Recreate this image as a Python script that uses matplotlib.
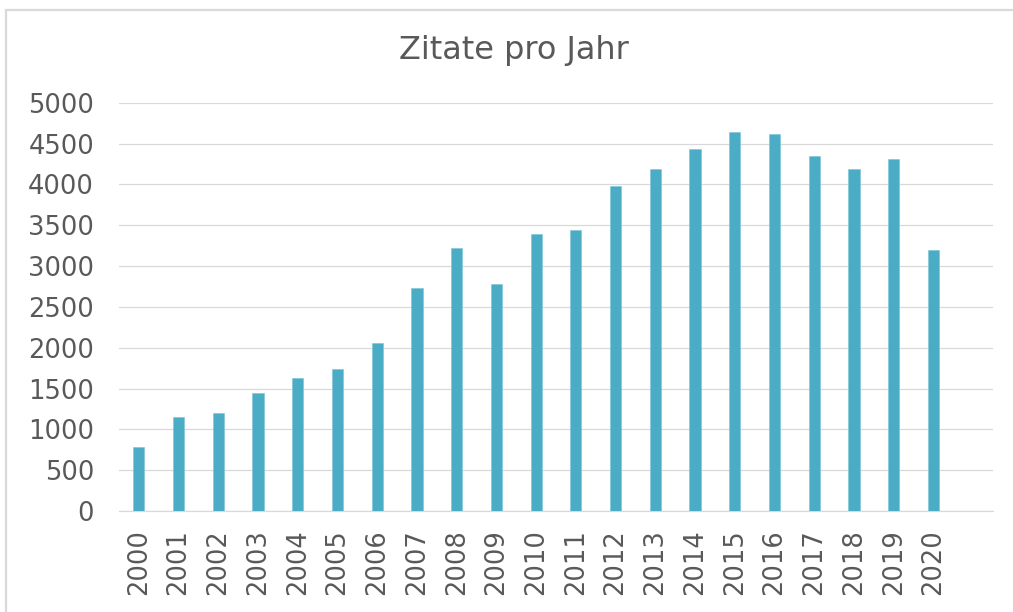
import matplotlib
matplotlib.use('Agg')
import matplotlib.pyplot as plt
from matplotlib.patches import Rectangle

# ── Daten ─────────────────────────────────────────────────────────────────────
jahre = [str(j) for j in range(2000, 2021)]
zitate = [788, 1147, 1196, 1441, 1629, 1735, 2061, 2727, 3216, 2776,
          3392, 3437, 3980, 4184, 4433, 4645, 4620, 4351, 4184, 4306, 3192]
y_ticks = [0, 500, 1000, 1500, 2000, 2500, 3000, 3500, 4000, 4500, 5000]

BAR = '#4bacc6'
TXT = '#595959'
GRID = '#d9d9d9'

plt.rcParams['font.family'] = ['DejaVu Sans']

W, H = 1013, 612
fig = plt.figure(figsize=(W / 100, H / 100), dpi=100, facecolor='white')

# Rahmen des Diagrammbereichs (rechts/unten abgeschnitten)
fig.patches.append(Rectangle((6 / W, -0.1), 1.2, (H - 10) / H + 0.1,
                             transform=fig.transFigure, fill=False,
                             edgecolor=GRID, lw=1.6))

ax = fig.add_axes([119 / W, (H - 511) / H, 874 / W, 408.3 / H])
x = list(range(len(jahre)))
ax.bar(x, zitate, width=0.28, color=BAR, edgecolor='#7cc3d6', lw=0.4, zorder=3)

ax.set_xlim(-0.5, len(jahre) + 0.5)   # Excel lässt rechts eine leere Kategorie
ax.set_ylim(0, 5000)
ax.set_yticks(y_ticks)
ax.set_xticks(x)
ax.set_xticklabels(jahre, rotation=90)

ax.grid(axis='y', color=GRID, lw=0.9, zorder=0)
for side in ['top', 'right', 'left']:
    ax.spines[side].set_visible(False)
ax.spines['bottom'].set_color(GRID)
ax.spines['bottom'].set_linewidth(0.9)
ax.tick_params(axis='both', length=0, colors=TXT, labelsize=18.5)
ax.tick_params(axis='y', pad=18)
ax.tick_params(axis='x', pad=13)

fig.text(514 / W, 1 - 50 / H, 'Zitate pro Jahr', ha='center', va='center',
         color=TXT, fontsize=23)

fig.savefig('out.png', dpi=100, facecolor='white')
plt.close(fig)
